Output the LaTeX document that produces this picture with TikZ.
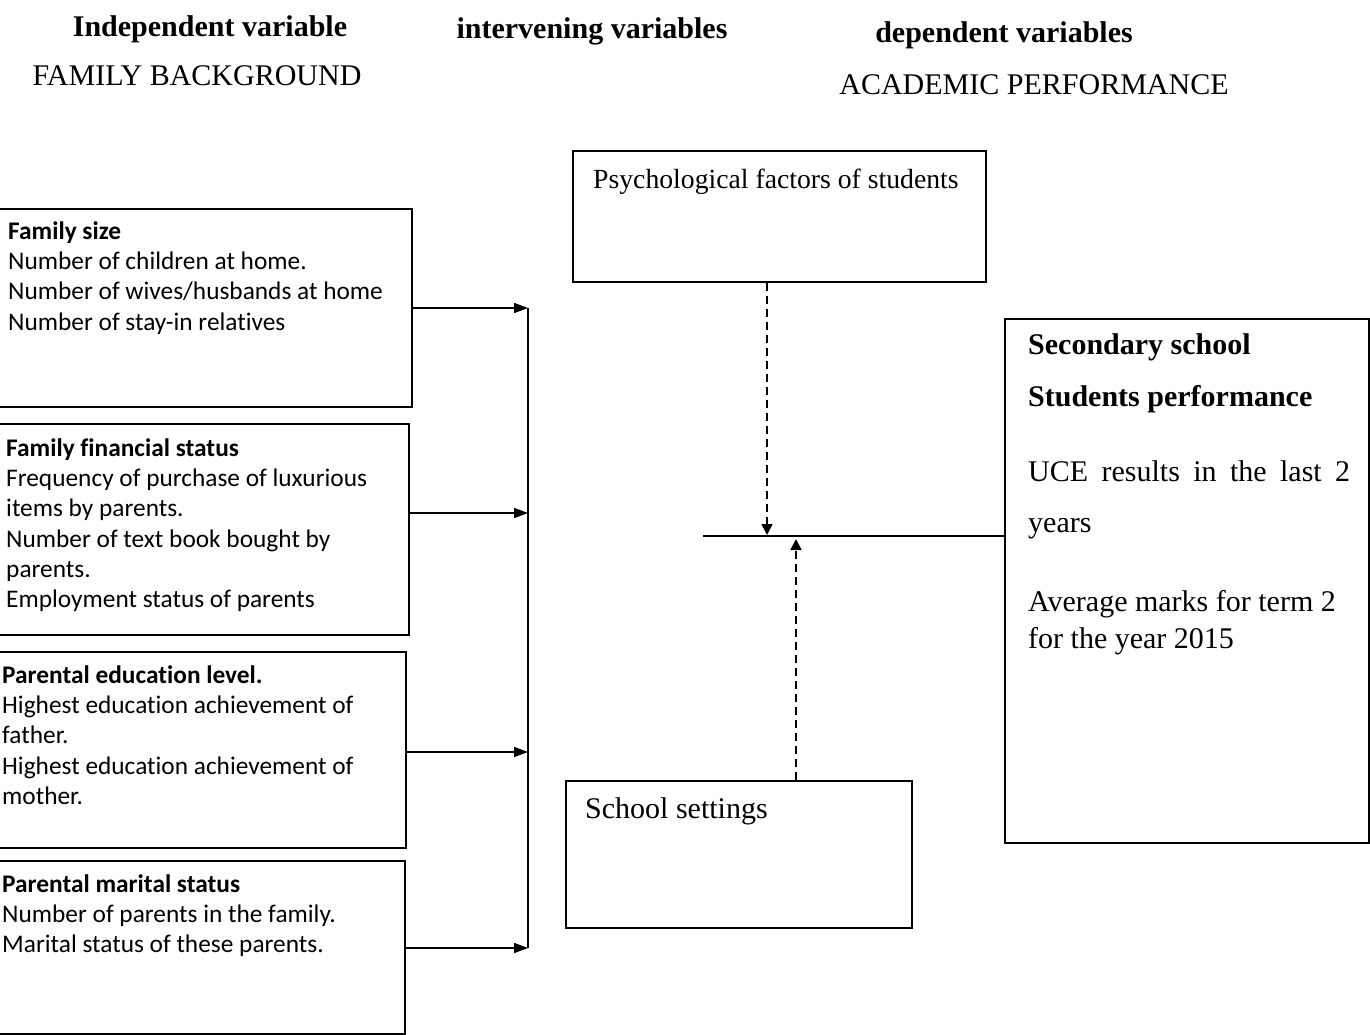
\documentclass[tikz,border=0pt]{standalone}
\usepackage{fontspec}
\setmainfont{Liberation Serif}
\newfontfamily\carlito[Ligatures=NoCommon]{Carlito}
\usetikzlibrary{arrows.meta}
\begin{document}
\begin{tikzpicture}[x=1pt,y=-1pt,
  boxst/.style={draw, line width=1.7pt, inner sep=0pt, anchor=north west},
  ltxt/.style={anchor=north west, inner sep=0pt, align=left, font=\carlito\fontsize{25.35}{30.3}\selectfont},
  ttxt/.style={anchor=base west, inner sep=0pt, font=\fontsize{30}{36}\selectfont},
  head/.style={anchor=base, inner sep=0pt, font=\fontsize{30}{36}\selectfont},
  conn/.style={line width=1.7pt},
  arr/.style={line width=1.7pt, -{Triangle[length=14pt,width=10pt]}},
  darr/.style={line width=1.7pt, dash pattern=on 8pt off 5pt, -{Triangle[length=11pt,width=11pt]}}]
\useasboundingbox (0,0) rectangle (1370,1035);
\clip (0,0) rectangle (1370,1035);

% headers
\node[head, font=\bfseries\fontsize{30}{36}\selectfont] (h1) at (210,37) {Independent variable};
\node[head] (h1b) at (197,86) {FAMILY BACKGROUND};
\node[head, font=\bfseries\fontsize{30}{36}\selectfont] (h2) at (592,39) {intervening variables};
\node[head, font=\bfseries\fontsize{30}{36}\selectfont] (h3) at (1004,43) {dependent variables};
\node[head] (h3b) at (1034,95) {ACADEMIC PERFORMANCE};

% left boxes
\node[boxst, minimum width=421pt, minimum height=198pt] (fs) at (-10,208) {};
\node[ltxt] (fst) at (8,217.8) {\strut\textbf{Family size}\\Number of children at home.\\Number of wives/husbands at home\\Number of stay-in relatives};

\node[boxst, minimum width=418pt, minimum height=211pt] (ffs) at (-10,423) {};
\node[ltxt] (ffst) at (6,434.8) {\strut\textbf{Family financial status}\\Frequency of purchase of luxurious\\items by parents.\\Number of text book bought by\\parents.\\Employment status of parents};

\node[boxst, minimum width=415pt, minimum height=196pt] (pel) at (-10,651) {};
\node[ltxt] (pelt) at (2,661.8) {\strut\textbf{Parental education level.}\\Highest education achievement of\\father.\\Highest education achievement of\\mother.};

\node[boxst, minimum width=414pt, minimum height=173pt] (pms) at (-10,860) {};
\node[ltxt] (pmst) at (2,870.8) {\strut\textbf{Parental marital status}\\Number of parents in the family.\\Marital status of these parents.};

% bus and arrows
\coordinate (bus1) at (528,308);
\coordinate (bus2) at (528,513);
\coordinate (bus3) at (528,752);
\coordinate (bus4) at (528,948);
\draw[conn] (bus1) -- (bus4);
\draw[arr] (fs.east |- bus1) -- (bus1);
\draw[arr] (ffs.east |- bus2) -- (bus2);
\draw[arr] (pel.east |- bus3) -- (bus3);
\draw[arr] (pms.east |- bus4) -- (bus4);

% intervening boxes
\node[boxst, minimum width=413pt, minimum height=131pt] (psych) at (572,150) {};
\node[ttxt, font=\fontsize{27.7}{34}\selectfont] (psycht) at (593,189) {Psychological factors of students};

\node[boxst, minimum width=346pt, minimum height=147pt] (school) at (565,780) {};
\node[ttxt] (schoolt) at (585,818) {School settings};

% dependent box
\node[boxst, minimum width=364pt, minimum height=524pt] (res) at (1004,318) {};
\node[ttxt, font=\bfseries\fontsize{30}{36}\selectfont] (r1) at (1028,354) {Secondary school};
\node[ttxt, font=\bfseries\fontsize{30}{36}\selectfont] (r2) at (1028,406) {Students performance};
\node[ttxt] (r3) at (1028,481) {\makebox[322pt][s]{UCE results in the last 2}};
\node[ttxt] (r4) at (1028,532) {years};
\node[ttxt] (r5) at (1028,611) {Average marks for term 2};
\node[ttxt] (r6) at (1028,648) {for the year 2015};

% junction
\coordinate (jl) at (703,536);
\draw[conn] (jl) -- (res.west |- jl);
\coordinate (jd) at (767,535);
\coordinate (ju) at (796,539);
\draw[darr] (psych.south -| jd) -- (jd);
\draw[darr] (school.north -| ju) -- (ju);
\end{tikzpicture}
\end{document}
